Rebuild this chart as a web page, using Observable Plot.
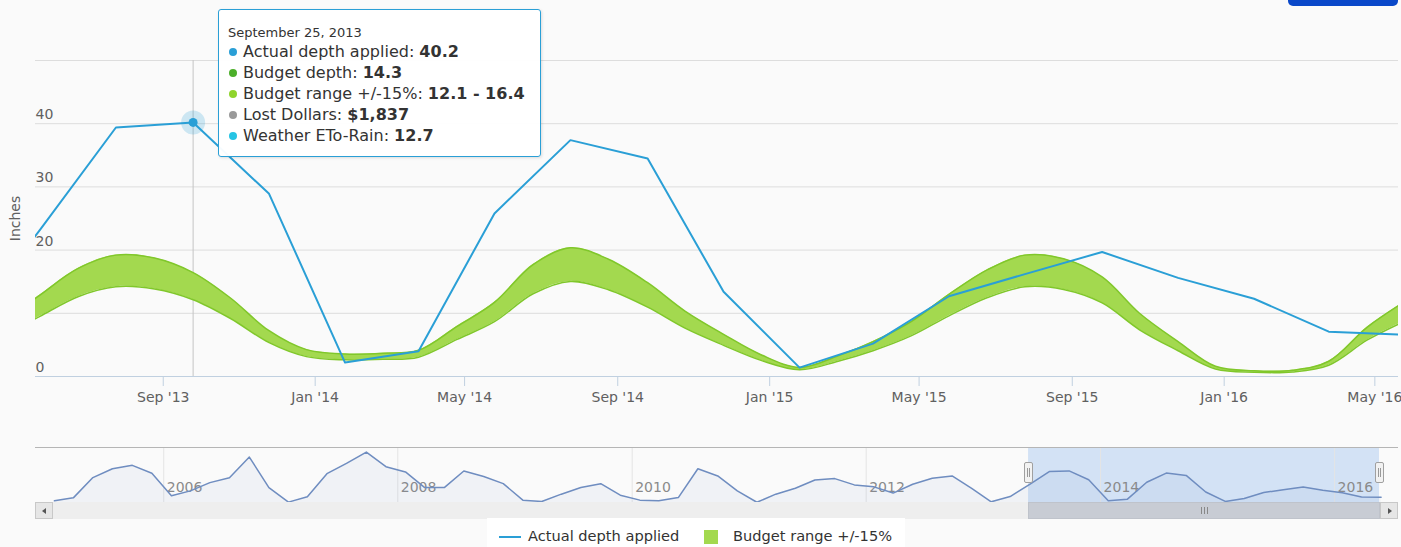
<!DOCTYPE html>
<html><head><meta charset="utf-8">
<script src="https://cdn.jsdelivr.net/npm/d3@7"></script>
<script src="https://cdn.jsdelivr.net/npm/@observablehq/plot@0.6"></script>
<style>
html,body{margin:0;padding:0;background:#fafafa;}
#wrap{position:relative;width:1401px;height:547px;overflow:hidden;font-family:"DejaVu Sans",sans-serif;background:#fafafa;}
#wrap svg{position:absolute;left:0;}
.abs{position:absolute;box-sizing:border-box;}
#tip{position:absolute;left:218px;top:9px;width:323px;height:148px;box-sizing:border-box;background:rgba(255,255,255,0.96);border:1.5px solid #2a9fd6;border-radius:3px;box-shadow:1px 1px 3px rgba(0,0,0,0.12);padding:14px 10px 0 9px;color:#333;}
#tip .date{font-size:13px;line-height:17px;}
#tip .row{font-size:16px;line-height:21px;white-space:nowrap;}
#tip .dot{display:inline-block;width:8px;height:8px;border-radius:50%;margin:0 6px 2px 1px;vertical-align:middle;}
#legend{position:absolute;left:487px;top:518px;width:418px;height:32px;background:#fff;font-size:14.6px;color:#333;}
#legend .item{position:absolute;top:9px;line-height:18px;white-space:nowrap;}
</style></head><body><div id="wrap"></div>
<script>
// ---------- data ----------
const actualDates = [
 "2005-01-25","2005-03-25","2005-05-25","2005-07-25","2005-09-25","2005-11-25",
 "2006-01-25","2006-03-25","2006-05-25","2006-07-25","2006-09-25","2006-11-25",
 "2007-01-25","2007-03-25","2007-05-25","2007-07-25","2007-09-25","2007-11-25",
 "2008-01-25","2008-03-25","2008-05-25","2008-07-25","2008-09-25","2008-11-25",
 "2009-01-25","2009-03-25","2009-05-25","2009-07-25","2009-09-25","2009-11-25",
 "2010-01-25","2010-03-25","2010-05-25","2010-07-25","2010-09-25","2010-11-25",
 "2011-01-25","2011-03-25","2011-05-25","2011-07-25","2011-09-25","2011-11-25",
 "2012-01-25","2012-03-25","2012-05-25","2012-07-25","2012-09-25","2012-11-25",
 "2013-01-25","2013-03-25","2013-05-25","2013-07-25","2013-09-25","2013-11-25",
 "2014-01-25","2014-03-25","2014-05-25","2014-07-25","2014-09-25","2014-11-25",
 "2015-01-25","2015-03-25","2015-05-25","2015-07-25","2015-09-25","2015-11-25",
 "2016-01-25","2016-03-25","2016-05-25"];
const actualValues = [
 2.1, 5.9, 31.7, 43.0, 47.3, 37.2,
 8.5, 14.8, 25.3, 31.6, 57.8, 19.0,
 0.5, 7.2, 36.7, 49.8, 64.2, 45.6,
 38.9, 19.0, 19.0, 40.1, 33.0, 24.0,
 3.0, 1.3, 10.6, 19.0, 24.0, 9.3,
 3.0, 2.1, 6.3, 43.0, 33.8, 14.8,
 0.3, 10.6, 18.2, 28.7, 30.4, 22.4,
 19.9, 12.0, 23.3, 30.9, 33.8, 18.0,
 0.9, 7.6, 23.2, 39.4, 40.2, 28.9,
 2.2, 4.0, 25.8, 37.4, 34.5, 13.4,
 1.4, 5.2, 12.7, 16.2, 19.7, 15.6,
 12.3, 7.1, 6.6];
const budgetDates = [
 "2013-04-25","2013-05-25","2013-06-25","2013-07-25","2013-08-25","2013-09-25","2013-10-25","2013-11-25","2013-12-25",
 "2014-01-25","2014-02-25","2014-03-25","2014-04-25","2014-05-25","2014-06-25","2014-07-25","2014-08-25","2014-09-25","2014-10-25","2014-11-25","2014-12-25",
 "2015-01-25","2015-02-25","2015-03-25","2015-04-25","2015-05-25","2015-06-25","2015-07-25","2015-08-25","2015-09-25","2015-10-25","2015-11-25","2015-12-25",
 "2016-01-25","2016-02-25","2016-03-25","2016-04-25","2016-05-25"];
const budgetValues = [
 7.4, 11.2, 14.9, 16.7, 16.3, 14.3, 10.8, 6.3, 3.7,
 3.1, 3.2, 3.6, 6.9, 10.2, 15.4, 17.7, 16.1, 12.9, 9.0, 5.8, 3.0,
 1.25, 2.85, 4.8, 7.6, 11.3, 14.7, 16.7, 16.2, 13.7, 8.7, 4.8, 1.4,
 0.8, 0.85, 2.1, 6.8, 10.3];
const budgetRangePct = 0.15;
const mainTicks = ["2013-09-01","2014-01-01","2014-05-01","2014-09-01","2015-01-01","2015-05-01","2015-09-01","2016-01-01","2016-05-01"];
const yTicks = [0, 10, 20, 30, 40];
const yGrid = [10, 20, 30, 40, 50];
const navTicks = ["2006-01-01","2008-01-01","2010-01-01","2012-01-01","2014-01-01","2016-01-01"];
const viewRange = ["2013-05-21T10:00", "2016-05-20"];
const navRange = ["2004-11-27", "2016-05-20"];
const hoverDate = "2013-09-25";
const tipTitle = "September 25, 2013";
const tipLabels = ["Actual depth applied", "Budget depth", "Budget range +/-15%", "Lost Dollars", "Weather ETo-Rain"];
const tipValues = ["40.2", "14.3", "12.1 - 16.4", "$1,837", "12.7"];
const legendLabels = ["Actual depth applied", "Budget range +/-15%"];

// ---------- styles ----------
const BLUE = "#2a9fd6", GREEN_FILL = "#a3d94f", GREEN_EDGE = "#80c72b";
const tipColors = [BLUE, "#4caf2a", "#8fd42c", "#9a9a9a", "#26c4e4"];
const CURVE = "catmull-rom";

const P = s => new Date(s);
const actual = actualDates.map((d, i) => ({date: P(d), v: actualValues[i]}));
const budget = budgetDates.map((d, i) => ({date: P(d), v: budgetValues[i]}));
const hover = actual.find(d => +d.date === +P(hoverDate));
const wrap = document.getElementById("wrap");

const main = Plot.plot({
  width: 1401, height: 420,
  marginLeft: 35, marginRight: 3, marginTop: 60, marginBottom: 44,
  x: {type: "utc", domain: viewRange.map(P)},
  y: {domain: [0, 50], axis: null},
  style: {background: "transparent", fontFamily: "DejaVu Sans, sans-serif", fontSize: "14px", overflow: "visible"},
  marks: [
    Plot.gridY(yGrid, {stroke: "#dddddd", strokeOpacity: 1}),
    Plot.ruleY([0], {stroke: "#c0d0e0"}),
    Plot.axisX(mainTicks.map(P), {tickSize: 10, tickPadding: 6, stroke: "#c0d0e0", fill: "#606060", fontSize: 14,
      tickFormat: d3.utcFormat("%b '%y"), label: null}),
    Plot.text(yTicks, {y: d => d, frameAnchor: "left", textAnchor: "start", dy: -9, fill: "#606060", fontSize: 14}),
    Plot.text(["Inches"], {frameAnchor: "left", textAnchor: "middle", dx: -20, rotate: -90, fill: "#606060", fontSize: 14}),
    Plot.ruleX([P(hoverDate)], {stroke: "#c4c4c4"}),
    Plot.areaY(budget, {x: "date", y1: d => d.v * (1 - budgetRangePct), y2: d => d.v * (1 + budgetRangePct),
      fill: GREEN_FILL, curve: CURVE, clip: true}),
    Plot.lineY(budget, {x: "date", y: d => d.v * (1 + budgetRangePct), stroke: GREEN_EDGE, strokeWidth: 1.5, curve: CURVE, clip: true}),
    Plot.lineY(budget, {x: "date", y: d => d.v * (1 - budgetRangePct), stroke: GREEN_EDGE, strokeWidth: 1.5, curve: CURVE, clip: true}),
    Plot.lineY(actual, {x: "date", y: "v", stroke: BLUE, strokeWidth: 2, clip: true}),
    Plot.dot([hover], {x: "date", y: "v", r: 12, fill: BLUE, fillOpacity: 0.22}),
    Plot.dot([hover], {x: "date", y: "v", r: 4.5, fill: BLUE})
  ]
});
main.style.top = "0px";
wrap.appendChild(main);

const nav = Plot.plot({
  width: 1401, height: 100,
  marginLeft: 35, marginRight: 22, marginTop: 27, marginBottom: 18,
  x: {type: "utc", domain: navRange.map(P), axis: null},
  y: {domain: [0, 70], axis: null},
  style: {background: "transparent", fontFamily: "DejaVu Sans, sans-serif", fontSize: "14px", overflow: "visible"},
  marks: [
    Plot.rect([{x1: P(viewRange[0]), x2: P(viewRange[1])}], {x1: "x1", x2: "x2", fill: "#d3e2f5"}),
    Plot.ruleX(navTicks.map(P), {stroke: "#e4e4e4"}),
    Plot.text(navTicks.map(P), {x: d => d, frameAnchor: "bottom", textAnchor: "start", dx: 3, dy: -11,
      text: d3.utcFormat("%Y"), fill: "#8a8a8a", fontSize: 14}),
    Plot.areaY(actual, {x: "date", y: "v", fill: "#6f8fc4", fillOpacity: 0.07}),
    Plot.lineY(actual, {x: "date", y: "v", stroke: "#6f8dc0", strokeWidth: 1.5}),
    Plot.ruleY([70], {stroke: "#b5b5b5", insetRight: -19})
  ]
});
nav.style.top = "420px";
wrap.appendChild(nav);

// ---------- navigator chrome (positioned via the navigator's x scale) ----------
const nx = nav.scale("x");
const hx1 = nx.apply(P(viewRange[0])), hx2 = nx.apply(P(viewRange[1]));
function box(parent, l, t, w, h, css) {
  const d = document.createElement("div");
  d.className = "abs";
  d.style.cssText += `left:${l}px;top:${t}px;width:${w}px;height:${h}px;` + (css || "");
  parent.appendChild(d);
  return d;
}
box(wrap, 35, 502, 1363, 17, "background:#eeeeee;");
const thumb = box(wrap, hx1, 502, hx2 - hx1 + 1, 17, "background:#c8ccd4;border:1px solid #bfc3cb;");
[-3, 0, 3].forEach(o => box(thumb, (hx2 - hx1) / 2 + o - 1, 4, 1, 7, "background:#888;"));
const lb = box(wrap, 35, 502, 18, 17, "background:#e6e6e6;border:1px solid #c8c8c8;");
const rb = box(wrap, 1380, 502, 18, 17, "background:#e6e6e6;border:1px solid #c8c8c8;");
const tri = (parent, dir) => {
  const t = document.createElement("div");
  t.style.cssText = "position:absolute;top:5px;width:0;height:0;border-top:3px solid transparent;border-bottom:3px solid transparent;" +
    (dir === "l" ? "left:6px;border-right:4px solid #555;" : "left:7px;border-left:4px solid #555;");
  parent.appendChild(t);
};
tri(lb, "l"); tri(rb, "r");
[hx1, hx2].forEach(x => {
  const h = box(wrap, x - 4, 462, 9, 21, "background:#f2f2f2;border:1px solid #a0a0a0;border-radius:2px;");
  [2, 4].forEach(o => box(h, o, 5, 1, 9, "background:#999;"));
});

// top-right button
box(wrap, 1288, -6, 110, 12, "background:#0a48c9;border-radius:5px;");

// ---------- tooltip ----------
const tip = document.createElement("div");
tip.id = "tip";
const dEl = document.createElement("div");
dEl.className = "date"; dEl.textContent = tipTitle;
tip.appendChild(dEl);
tipLabels.forEach((lab, i) => {
  const r = document.createElement("div");
  r.className = "row";
  const dot = document.createElement("span");
  dot.className = "dot"; dot.style.background = tipColors[i];
  r.appendChild(dot);
  r.appendChild(document.createTextNode(lab + ": "));
  const b = document.createElement("b"); b.textContent = tipValues[i];
  r.appendChild(b);
  tip.appendChild(r);
});
wrap.appendChild(tip);

// ---------- legend ----------
const leg = document.createElement("div");
leg.id = "legend";
leg.innerHTML =
  `<div style="position:absolute;left:12px;top:18px;width:22px;height:2px;background:${BLUE}"></div>` +
  `<div class="item" style="left:41px">${legendLabels[0]}</div>` +
  `<div style="position:absolute;left:217px;top:12px;width:14px;height:14px;background:${GREEN_FILL}"></div>` +
  `<div class="item" style="left:246px">${legendLabels[1]}</div>`;
wrap.appendChild(leg);
</script>
</body></html>
